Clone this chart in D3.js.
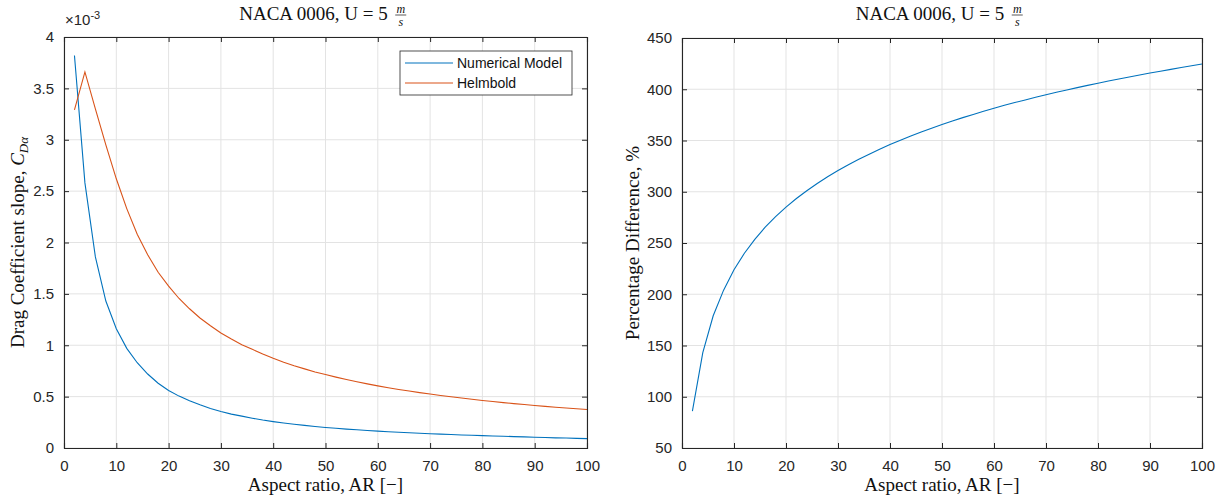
<!DOCTYPE html>
<html><head><meta charset="utf-8">
<script src="https://cdn.jsdelivr.net/npm/d3@7"></script>
<style>body{margin:0;background:#fff;} svg{display:block;}</style>
</head><body>
<svg id="chart" width="1225" height="497"></svg>
<script>
const aspectRatio = [2,4,6,8,10,12,14,16,18,20,22,24,26,28,30,32,34,36,38,40,42,44,46,48,50,52,54,56,58,60,62,64,66,68,70,72,74,76,78,80,82,84,86,88,90,92,94,96,98,100];
// Drag coefficient slope (x1e-3)
const numericalModel = [3.82,2.58,1.86,1.43,1.16,0.97,0.83,0.72,0.63,0.56,0.505,0.46,0.42,0.385,0.355,0.33,0.31,0.29,0.272,0.257,0.243,0.231,0.22,0.21,0.2,0.192,0.184,0.177,0.17,0.164,0.158,0.153,0.148,0.143,0.139,0.135,0.131,0.127,0.124,0.12,0.117,0.114,0.111,0.108,0.105,0.102,0.099,0.097,0.094,0.091];
const helmbold = [3.29,3.66,3.30,2.95,2.62,2.33,2.08,1.88,1.71,1.575,1.455,1.355,1.265,1.19,1.12,1.06,1.005,0.96,0.915,0.873,0.835,0.80,0.77,0.74,0.715,0.69,0.667,0.645,0.624,0.605,0.587,0.57,0.554,0.539,0.525,0.511,0.499,0.487,0.475,0.463,0.453,0.442,0.432,0.423,0.414,0.405,0.397,0.39,0.382,0.375];
const percentDiff = [86,143,179,204,224,240,253.6,265.4,275.7,285,293.4,301,308.1,314.6,320.7,326.4,331.7,336.7,341.5,346,350.3,354.4,358.3,362,365.6,369,372.3,375.4,378.5,381.4,384.3,387,389.6,392.2,394.6,397,399.3,401.6,403.8,405.9,408,410,412,413.9,415.8,417.6,419.4,421.2,422.9,424.6];
const xTicks = [0,10,20,30,40,50,60,70,80,90,100];
const yTicksLeft = [0,0.5,1,1.5,2,2.5,3,3.5,4];
const yTicksRight = [50,100,150,200,250,300,350,400,450];
const seriesNames = ["Numerical Model","Helmbold"];
const colors = ["#0072BD","#D95319"];

const svg = d3.select("#chart");
const axisColor = "#262626", gridColor = "#e3e3e3";
const tickFont = "Liberation Sans, Arial, sans-serif";
const serif = "Liberation Serif, Times New Roman, serif";
const labelSize = "19px";

function panel(x0, x1, y0, y1, yDomain, yTicks) {
  const g = svg.append("g");
  const x = d3.scaleLinear().domain([0,100]).range([x0,x1]);
  const y = d3.scaleLinear().domain(yDomain).range([y1,y0]);
  g.selectAll(".gx").data(xTicks).join("line")
    .attr("x1",d=>x(d)).attr("x2",d=>x(d)).attr("y1",y0).attr("y2",y1)
    .attr("stroke",gridColor).attr("stroke-width",1);
  g.selectAll(".gy").data(yTicks).join("line")
    .attr("y1",d=>y(d)).attr("y2",d=>y(d)).attr("x1",x0).attr("x2",x1)
    .attr("stroke",gridColor).attr("stroke-width",1);
  return {g,x,y};
}

function frame(p, x0, x1, y0, y1, yTicks, yFmt) {
  const {g,x,y} = p;
  const tl = 5;
  const axB = g.append("g").attr("transform",`translate(0,${y1})`)
    .call(d3.axisBottom(x).tickValues(xTicks).tickSize(-tl).tickPadding(12).tickFormat(d3.format("d")));
  const axT = g.append("g").attr("transform",`translate(0,${y0})`)
    .call(d3.axisTop(x).tickValues(xTicks).tickSize(-tl).tickFormat(""));
  const axL = g.append("g").attr("transform",`translate(${x0},0)`)
    .call(d3.axisLeft(y).tickValues(yTicks).tickSize(-tl).tickPadding(10).tickFormat(yFmt));
  const axR = g.append("g").attr("transform",`translate(${x1},0)`)
    .call(d3.axisRight(y).tickValues(yTicks).tickSize(-tl).tickFormat(""));
  [axB,axT,axL,axR].forEach(a=>{
    a.selectAll("path").attr("stroke",axisColor).attr("stroke-width",1.1);
    a.selectAll("line").attr("stroke",axisColor);
    a.selectAll("text").attr("fill",axisColor).style("font-family",tickFont).style("font-size","15px");
  });
  axB.selectAll(".tick line").filter(d=>d===0||d===100).remove();
  axT.selectAll(".tick line").filter(d=>d===0||d===100).remove();
}

function title(cx, yb) {
  const t = svg.append("g").style("font-family",serif).attr("fill","#111");
  const txt = t.append("text").attr("x",cx-12).attr("y",yb).attr("text-anchor","middle")
    .style("font-size",labelSize).text("NACA 0006, U = 5");
  const w = txt.node().getComputedTextLength();
  const fx = cx - 12 + w/2 + 13;
  t.append("text").attr("x",fx).attr("y",yb-7).attr("text-anchor","middle")
    .style("font-size","12px").style("font-style","italic").text("m");
  t.append("line").attr("x1",fx-5.5).attr("x2",fx+5.5).attr("y1",yb-5).attr("y2",yb-5)
    .attr("stroke","#111").attr("stroke-width",0.7);
  t.append("text").attr("x",fx).attr("y",yb+6).attr("text-anchor","middle")
    .style("font-size","12px").style("font-style","italic").text("s");
}

function xlabel(cx, yb) {
  svg.append("text").attr("x",cx).attr("y",yb).attr("text-anchor","middle")
    .style("font-family",serif).style("font-size",labelSize).attr("fill","#111")
    .text("Aspect ratio, AR [\u2212]");
}

// Left panel
const L = {x0:64, x1:587, y0:37, y1:448};
const pL = panel(L.x0,L.x1,L.y0,L.y1,[0,4],yTicksLeft);
const lineGen = (x,y,vals)=>d3.line().x((d,i)=>x(aspectRatio[i])).y(d=>y(d))(vals);
[numericalModel, helmbold].forEach((vals,k)=>{
  pL.g.append("path").attr("d",lineGen(pL.x,pL.y,vals))
    .attr("fill","none").attr("stroke",colors[k]).attr("stroke-width",1.1);
});
frame(pL,L.x0,L.x1,L.y0,L.y1,yTicksLeft,d=>d3.format("")(d));
const ex = svg.append("text").attr("x",65).attr("y",25).attr("fill",axisColor)
  .style("font-family",tickFont).style("font-size","15px");
ex.append("tspan").text("\u00d710");
ex.append("tspan").attr("dy",-6).style("font-size","11px").text("-3");

title((L.x0+L.x1)/2, 20);
xlabel((L.x0+L.x1)/2, 491);
const yl = svg.append("text").attr("transform",`translate(24,${(L.y0+L.y1)/2}) rotate(-90)`)
  .attr("text-anchor","middle").style("font-family",serif).style("font-size",labelSize).attr("fill","#111");
yl.append("tspan").text("Drag Coefficient slope, ");
yl.append("tspan").style("font-style","italic").text("C");
yl.append("tspan").attr("dy",4).style("font-size","13px").style("font-style","italic").text("D\u03b1");

// legend
const lg = svg.append("g");
lg.append("rect").attr("x",400).attr("y",51).attr("width",172).attr("height",44)
  .attr("fill","#fff").attr("stroke",axisColor).attr("stroke-width",0.8);
seriesNames.forEach((n,i)=>{
  const yy = 63 + i*20;
  lg.append("line").attr("x1",405).attr("x2",453).attr("y1",yy).attr("y2",yy)
    .attr("stroke",colors[i]).attr("stroke-width",1.1);
  lg.append("text").attr("x",457).attr("y",yy+5).text(n).attr("fill","#111")
    .style("font-family",tickFont).style("font-size","14px");
});

// Right panel
const R = {x0:682, x1:1202, y0:38, y1:448};
const pR = panel(R.x0,R.x1,R.y0,R.y1,[50,450],yTicksRight);
pR.g.append("path").attr("d",lineGen(pR.x,pR.y,percentDiff))
  .attr("fill","none").attr("stroke",colors[0]).attr("stroke-width",1.1);
frame(pR,R.x0,R.x1,R.y0,R.y1,yTicksRight,d3.format("d"));
title((R.x0+R.x1)/2, 20);
xlabel((R.x0+R.x1)/2, 491);
svg.append("text").attr("transform",`translate(639,${(R.y0+R.y1)/2}) rotate(-90)`)
  .attr("text-anchor","middle").style("font-family",serif).style("font-size",labelSize).attr("fill","#111")
  .text("Percentage Difference, %");
</script>
</body></html>
